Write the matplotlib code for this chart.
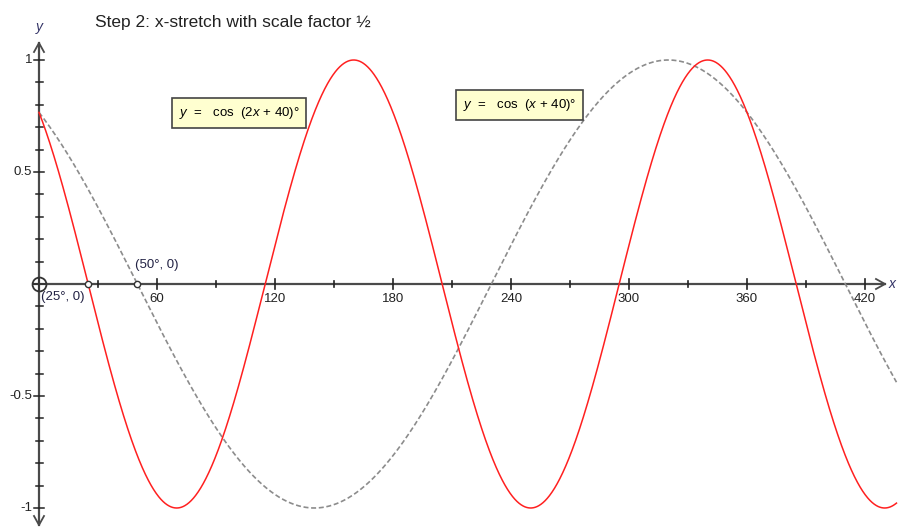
import numpy as np
import matplotlib
matplotlib.use("Agg")
import matplotlib.pyplot as plt

plt.rcParams["mathtext.fontset"] = "custom"
plt.rcParams["mathtext.rm"] = "Liberation Sans"
plt.rcParams["mathtext.it"] = "Liberation Sans:italic"

# Function parameters (y = cos(k*x + phase) degrees)
red_k, red_phase = 2, 40
gray_k, gray_phase = 1, 40
x_end = 436
x_major = [60, 120, 180, 240, 300, 360, 420]
x_minor = [30, 90, 150, 210, 270, 330, 390]
y_major = [1, 0.5, -0.5, -1]
y_major_labels = ["1", "0.5", "-0.5", "-1"]
marked_points_x = [25, 50]
marked_labels = ["(25°, 0)", "(50°, 0)"]

W, H = 898, 528
fig = plt.figure(figsize=(W / 100, H / 100), dpi=100)
ax = fig.add_axes([0, 0, 1, 1])
px_per_deg = (865 - 157) / 360.0
x0px = 157 - 60 * px_per_deg
ax.set_xlim(-x0px / px_per_deg, (W - x0px) / px_per_deg)
y0px, px_per_unit = 284, 224.0
ax.set_ylim(-(H - y0px) / px_per_unit, y0px / px_per_unit)
ax.axis("off")

def dx(p):
    return p / px_per_deg

def dy(p):
    return p / px_per_unit

axis_col = "#4a4a4a"
font = "Liberation Sans"
tick_fs = 9.5

# axes
ax.plot([dx(-5), dx(885 - x0px)], [0, 0], color=axis_col, lw=1.6, zorder=2)
ax.plot([0, 0], [-(525 - y0px) / px_per_unit, (y0px - 43) / px_per_unit], color=axis_col, lw=1.6, zorder=2)
# arrows
xa = (885 - x0px) / px_per_deg
ax.plot([xa - dx(9), xa, xa - dx(9)], [dy(5), 0, -dy(5)], color=axis_col, lw=1.3, zorder=2)
ya = (y0px - 43) / px_per_unit
ax.plot([-dx(5), 0, dx(5)], [ya - dy(9), ya, ya - dy(9)], color=axis_col, lw=1.3, zorder=2)
yb = -(525 - y0px) / px_per_unit
ax.plot([-dx(5), 0, dx(5)], [yb + dy(9), yb, yb + dy(9)], color=axis_col, lw=1.3, zorder=2)

# x ticks
for v in x_major:
    ax.plot([v, v], [-dy(5), dy(5)], color="#222222", lw=1.2, zorder=2)
    ax.text(v, -dy(9), str(v), ha="center", va="top", fontsize=tick_fs, family=font, color="#222222")
for v in x_minor:
    ax.plot([v, v], [-dy(3), dy(3)], color="#222222", lw=1.2, zorder=2)
# y ticks
for v in np.arange(-10, 11) / 10.0:
    if abs(v) < 1e-9:
        continue
    is_major = any(abs(v - m) < 1e-9 for m in y_major)
    L = 5 if is_major else 3.5
    ax.plot([-dx(L), dx(L)], [v, v], color="#222222", lw=1.1, zorder=2)
for v, lab in zip(y_major, y_major_labels):
    ax.text(-dx(7), v, lab, ha="right", va="center", fontsize=tick_fs, family=font, color="#222222")

# axis labels
ax.text(0, (y0px - 27) / px_per_unit, "y", ha="center", va="center", fontsize=10,
        style="italic", family=font, color="#333366")
ax.text((889 - x0px) / px_per_deg, 0, "x", ha="left", va="center", fontsize=10,
        style="italic", family=font, color="#333366")

# curves
xs = np.linspace(0, x_end, 2000)
ax.plot(xs, np.cos(np.radians(gray_k * xs + gray_phase)), color="#8c8c8c", lw=1.2,
        dashes=(3, 1.6), zorder=3)
ax.plot(xs, np.cos(np.radians(red_k * xs + red_phase)), color="#ff2020", lw=1.1, zorder=4)

# origin marker
ax.plot([0], [0], marker="o", ms=10, mfc="none", mec="#333333", mew=1.3, zorder=5)
ax.plot([-dx(6), dx(6)], [0, 0], color="#333333", lw=1.3, zorder=5)
ax.plot([0, 0], [-dy(6), dy(6)], color="#333333", lw=1.3, zorder=5)

# marked points
for px in marked_points_x:
    ax.plot([px], [0], marker="o", ms=4.5, mfc="white", mec="#333333", mew=1.0, zorder=6)
ax.text(dx(2), -dy(7), marked_labels[0], ha="left", va="top", fontsize=tick_fs, family=font, color="#222244")
ax.text(49, dy(13), marked_labels[1], ha="left", va="bottom", fontsize=tick_fs, family=font, color="#222244")

# label boxes
box = dict(boxstyle="square,pad=0.5", fc="#ffffd0", ec="#444444", lw=1.2)
ax.text((179 - x0px) / px_per_deg, (y0px - 113) / px_per_unit, r"$y$  =   cos  (2$x$ + 40)°",
        ha="left", va="center", fontsize=9.5, family=font, bbox=box, zorder=7)
ax.text((463 - x0px) / px_per_deg, (y0px - 105) / px_per_unit, r"$y$  =   cos  ($x$ + 40)°",
        ha="left", va="center", fontsize=9.5, family=font, bbox=box, zorder=7)

# title
fig.text(95 / W, 1 - 22 / H, "Step 2: x-stretch with scale factor ½", ha="left", va="center",
         fontsize=12.5, family=font, color="#222222")

fig.savefig("out.png", dpi=100)
